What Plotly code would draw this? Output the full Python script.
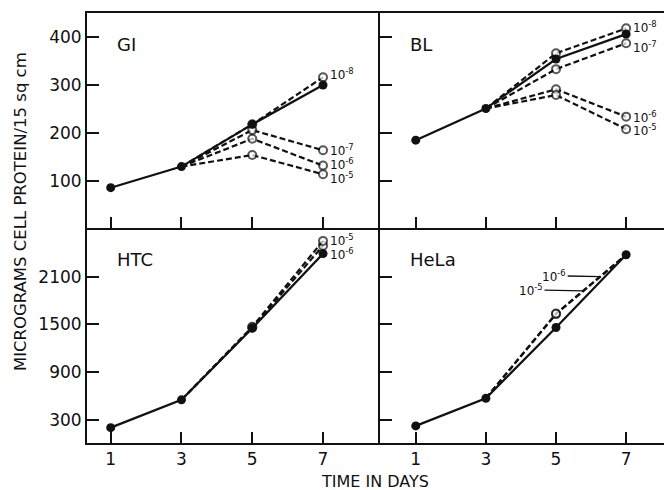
import numpy as np
import plotly.graph_objects as go
from plotly.subplots import make_subplots

days = [1, 3, 5, 7]
tdays = [3, 5, 7]

# GI panel
gi_control = [86, 130, 218, 300]
gi_e8 = [130, 218, 316]
gi_e7 = [130, 206, 164]
gi_e6 = [130, 188, 132]
gi_e5 = [130, 154, 114]

# BL panel
bl_control = [185, 251, 354, 406]
bl_e8 = [251, 366, 418]
bl_e7 = [251, 333, 387]
bl_e6 = [251, 291, 234]
bl_e5 = [251, 279, 208]

# HTC panel
htc_control = [203, 552, 1453, 2390]
htc_e6 = [552, 1460, 2490]
htc_e5 = [552, 1470, 2550]

# HeLa panel
hela_control = [225, 573, 1461, 2376]
hela_e6 = [573, 1630, 2376]
hela_e5 = [573, 1636, 2376]

top_ticks = [100, 200, 300, 400]
bottom_ticks = [300, 900, 1500, 2100]
x_ticks = [1, 3, 5, 7]

FONT = "DejaVu Sans"
INK = "#111111"

fig = make_subplots(rows=2, cols=2, horizontal_spacing=0, vertical_spacing=0,
                    column_widths=[293, 284])

def dashed(x, y, row, col, sizes):
    fig.add_trace(go.Scatter(
        x=x, y=y, mode="lines+markers",
        line=dict(color=INK, width=2.2, dash="6px,3px"),
        marker=dict(symbol="circle", size=sizes, color="white",
                    line=dict(color=INK, width=2)),
        showlegend=False, hoverinfo="skip"), row=row, col=col)

def solid(x, y, row, col):
    fig.add_trace(go.Scatter(
        x=x, y=y, mode="lines+markers",
        line=dict(color=INK, width=2.2),
        marker=dict(symbol="circle", size=9, color=INK),
        showlegend=False, hoverinfo="skip"), row=row, col=col)

for s in [gi_e8, gi_e7, gi_e6, gi_e5]:
    dashed(tdays, s, 1, 1, [0, 8, 8])
solid(days, gi_control, 1, 1)

for s in [bl_e8, bl_e7, bl_e6, bl_e5]:
    dashed(tdays, s, 1, 2, [0, 8, 8])
solid(days, bl_control, 1, 2)

for s in [htc_e6, htc_e5]:
    dashed(tdays, s, 2, 1, [0, 8, 8])
solid(days, htc_control, 2, 1)

for s in [hela_e6, hela_e5]:
    dashed(tdays, s, 2, 2, [0, 8, 0])
solid(days, hela_control, 2, 2)

axis_common = dict(showgrid=False, zeroline=False, showline=True, linecolor=INK,
                   linewidth=2, ticks="inside", tickwidth=2, tickcolor=INK,
                   tickfont=dict(family=FONT, size=17, color=INK))

# x axes
for r, c in [(1, 1), (1, 2), (2, 1), (2, 2)]:
    rng = [0.33, 8.61] if c == 1 else [-0.02, 8.08]
    fig.update_xaxes(range=rng, tickvals=x_ticks, ticklen=11,
                     showticklabels=(r == 2), mirror=(r == 1),
                     **axis_common, row=r, col=c)
# y axes
fig.update_yaxes(range=[2, 450], tickvals=top_ticks, ticklen=12, row=1, col=1, **axis_common)
fig.update_yaxes(range=[2, 450], tickvals=top_ticks, ticklen=12, showticklabels=False, row=1, col=2, **axis_common)
fig.update_yaxes(range=[10, 2712], tickvals=bottom_ticks, ticklen=12, row=2, col=1, **axis_common)
fig.update_yaxes(range=[10, 2712], tickvals=bottom_ticks, ticklen=12, showticklabels=False, row=2, col=2, **axis_common)

lab_font = dict(family=FONT, size=12, color=INK)

def end_label(text, xa, ya, y, yshift=0):
    fig.add_annotation(x=7, y=y, xref=xa, yref=ya, text=text, showarrow=False,
                       xanchor="left", yanchor="middle", xshift=5, yshift=yshift,
                       font=lab_font)

end_label("10<sup>-8</sup>", "x", "y", gi_e8[-1], 3)
end_label("10<sup>-7</sup>", "x", "y", gi_e7[-1], 0)
end_label("10<sup>-6</sup>", "x", "y", gi_e6[-1], 2)
end_label("10<sup>-5</sup>", "x", "y", gi_e5[-1], -4)

end_label("10<sup>-8</sup>", "x2", "y2", bl_e8[-1], 1)
end_label("10<sup>-7</sup>", "x2", "y2", bl_e7[-1], -4)
end_label("10<sup>-6</sup>", "x2", "y2", bl_e6[-1], 0)
end_label("10<sup>-5</sup>", "x2", "y2", bl_e5[-1], -1)

end_label("10<sup>-5</sup>", "x3", "y3", htc_e5[-1], 1)
end_label("10<sup>-6</sup>", "x3", "y3", htc_e6[-1], -8)

# HeLa leader labels
for text, xp, series, ax in [("10<sup>-6</sup>", 6.26, hela_e6, -46),
                             ("10<sup>-5</sup>", 5.77, hela_e5, -52)]:
    yp = float(np.interp(xp, tdays, series))
    fig.add_annotation(x=xp, y=yp, xref="x4", yref="y4", text=text,
                       showarrow=True, arrowhead=0, arrowwidth=1.3, arrowcolor=INK,
                       ax=ax, ay=-1, standoff=0, font=lab_font)

# panel names
pan_font = dict(family=FONT, size=18, color=INK)
for name, xa, ya in [("GI", "x domain", "y domain"), ("BL", "x2 domain", "y2 domain"),
                     ("HTC", "x3 domain", "y3 domain"), ("HeLa", "x4 domain", "y4 domain")]:
    fig.add_annotation(x=0, y=1, xref=xa, yref=ya, text=name, showarrow=False,
                       xanchor="left", yanchor="top", xshift=28, yshift=-19,
                       font=pan_font)

fig.add_annotation(x=0, y=0.537, xref="paper", yref="paper",
                   text="MICROGRAMS CELL PROTEIN/15 sq cm", textangle=-90,
                   showarrow=False, xanchor="center", yanchor="middle", xshift=-67,
                   font=dict(family=FONT, size=16.5, color=INK))
fig.add_annotation(x=0.499, y=0, xref="paper", yref="paper", text="TIME IN DAYS",
                   showarrow=False, xanchor="center", yanchor="middle", yshift=-38,
                   font=dict(family=FONT, size=16, color=INK))

fig.update_layout(width=664, height=490, margin=dict(l=87, r=0, t=13, b=47),
                  plot_bgcolor="white", paper_bgcolor="white")

# remove the default page margin so the 664x490 figure fills the window exactly
fig.write_html("out.html", config={"displayModeBar": False},
               post_script="document.body.style.margin='0';document.body.style.overflow='hidden';")
